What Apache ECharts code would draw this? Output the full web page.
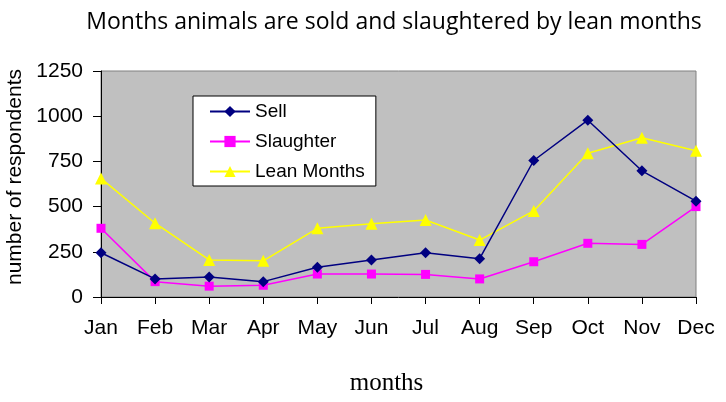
<!DOCTYPE html>
<html>
<head>
<meta charset="utf-8">
<script src="https://cdn.jsdelivr.net/npm/echarts@6/dist/echarts.min.js"></script>
<style>
  html, body { margin: 0; padding: 0; background: #fff; }
  #chart { width: 726px; height: 402px; }
</style>
</head>
<body>
<div id="chart"></div>
<script>
const months = ["Jan", "Feb", "Mar", "Apr", "May", "Jun", "Jul", "Aug", "Sep", "Oct", "Nov", "Dec"];
const sell = [245, 100, 110, 85, 165, 205, 245, 212, 755, 978, 698, 530];
const slaughter = [380, 85, 60, 65, 127, 127, 125, 100, 195, 297, 291, 500];
const leanMonths = [656, 408, 205, 200, 380, 405, 426, 315, 476, 795, 881, 809];

const chart = echarts.init(document.getElementById("chart"), null, { renderer: "canvas" });

const sans = "Liberation Sans, Arial, sans-serif";

chart.setOption({
  animation: false,
  backgroundColor: "#fff",
  textStyle: { fontFamily: sans, color: "#000" },
  title: {
    text: "Months animals are sold and slaughtered by lean months",
    left: 389,
    textAlign: "center",
    top: 6,
    textStyle: { fontFamily: "Open Sans, sans-serif", fontSize: 23, fontWeight: "normal", color: "#000" },
  },
  grid: {
    left: 101, right: 30, top: 71, bottom: 105,
    outerBoundsMode: "none",
    show: true, backgroundColor: "#c0c0c0", borderColor: "#808080", borderWidth: 1,
  },
  legend: {
    orient: "vertical",
    left: 193, top: 96,
    padding: [6, 11, 5, 16],
    itemGap: 11,
    itemWidth: 40, itemHeight: 14,
    backgroundColor: "#fff",
    borderColor: "#000", borderWidth: 1,
    textStyle: { fontFamily: sans, fontSize: 19, color: "#000" },
    data: ["Sell", "Slaughter", "Lean Months"],
  },
  xAxis: {
    type: "category",
    data: months,
    boundaryGap: false,
    name: "months",
    nameLocation: "middle",
    nameGap: 74,
    nameTextStyle: { fontFamily: "Liberation Serif, serif", fontSize: 25, color: "#000", padding: [0, 24, 0, 0] },
    axisLine: { lineStyle: { color: "#000", width: 1 } },
    axisTick: { alignWithLabel: true, length: 7, lineStyle: { color: "#000" } },
    axisLabel: { fontFamily: sans, fontSize: 21, color: "#000", margin: 21 },
    splitLine: { show: false },
  },
  yAxis: {
    type: "value",
    min: 0, max: 1250, interval: 250,
    name: "number of respondents",
    nameLocation: "middle",
    nameGap: 72,
    nameRotate: 90,
    nameTextStyle: { fontFamily: sans, fontSize: 21, color: "#000", padding: [0, 0, 0, 14] },
    axisLine: { show: true, lineStyle: { color: "#000", width: 1 } },
    axisTick: { show: true, length: 8, lineStyle: { color: "#000" } },
    axisLabel: { fontFamily: sans, fontSize: 21, color: "#000", margin: 18, formatter: (v) => String(v) },
    splitLine: { show: false },
  },
  series: [
    {
      name: "Sell", type: "line", data: sell,
      symbol: "diamond", symbolSize: 11,
      itemStyle: { color: "#000080" },
      lineStyle: { color: "#000080", width: 1.5 },
      z: 3,
    },
    {
      name: "Slaughter", type: "line", data: slaughter,
      symbol: "rect", symbolSize: 9,
      itemStyle: { color: "#ff00ff" },
      lineStyle: { color: "#ff00ff", width: 1.5 },
      z: 2,
    },
    {
      name: "Lean Months", type: "line", data: leanMonths,
      symbol: "triangle", symbolSize: 12,
      itemStyle: { color: "#ffff00" },
      lineStyle: { color: "#ffff00", width: 1.5 },
      z: 1,
    },
  ],
});
</script>
</body>
</html>
